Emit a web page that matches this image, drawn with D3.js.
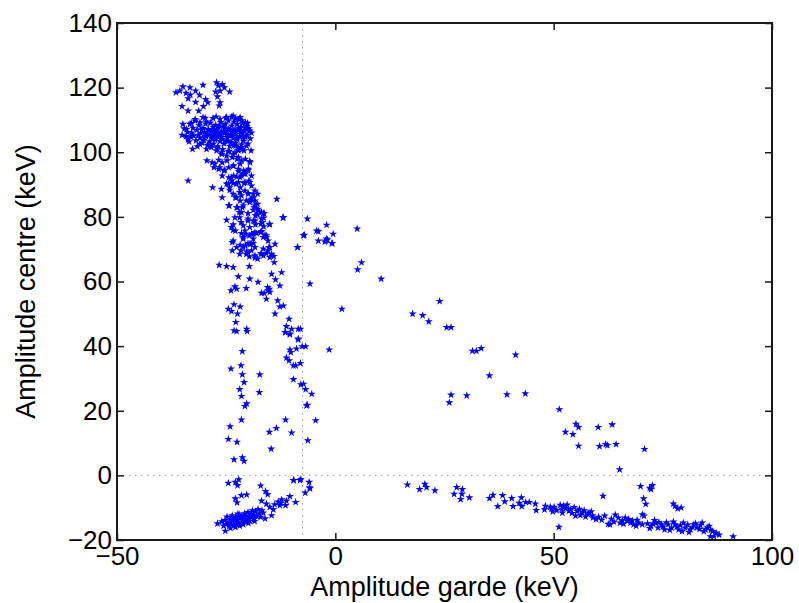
<!DOCTYPE html>
<html>
<head>
<meta charset="utf-8">
<title>Amplitude centre vs garde</title>
<script src="https://d3js.org/d3.v7.min.js"></script>
<style>
  body { margin: 0; background: white; }
  .tick text { font-family: "Liberation Sans", Arial, sans-serif; font-size: 26px; fill: #000; }
  .axis-title { font-family: "Liberation Sans", Arial, sans-serif; font-size: 27px; fill: #000; }
  .ref { stroke: #9a9a9a; stroke-width: 1; stroke-dasharray: 1.5,4.5; fill: none; }
</style>
</head>
<body>
<svg id="chart" width="799" height="603"></svg>
<script>
// tick labels
const xTicks = [-50, 0, 50, 100];
const yTicks = [-20, 0, 20, 40, 60, 80, 100, 120, 140];
const refX = -7.5, refY = 0;

// points, [garde, centre] in keV, grouped by region
const topCap = [[-36.5,118.5],[-35.6,119.0],[-34.9,120.3],[-33.3,120.0],[-32.0,119.0],[-30.3,120.8],[-27.2,121.6],[-26.8,120.6],[-25.4,120.0],[-24.2,118.7],[-26.4,119.0],[-27.4,118.7],[-33.2,117.8],[-33.7,116.6],[-32.0,115.5],[-31.1,117.7],[-29.7,116.4],[-29.2,115.4],[-30.2,114.2],[-31.3,112.8],[-35.1,114.2],[-33.7,112.8],[-26.6,114.4],[-26.4,115.4],[-25.9,121.0],[-27.0,117.2],[-34.2,118.3]];

const blob = [[-34.9,108.7],[-35.1,105.3],[-34.1,107.1],[-33.7,103.9],[-32.7,101.0],[-31.0,102.5],[-29.5,101.0],[-27.2,100.5],[-26.0,99.4],[-24.5,100.2],[-23.0,99.9],[-21.5,101.5],[-21.1,104.6],[-20.3,107.2],[-19.6,106.6],[-20.6,109.2],[-21.8,110.8],[-23.4,111.3],[-24.9,110.8],[-26.4,110.3],[-28.0,110.5],[-29.5,109.4],[-31.0,109.2],[-32.1,109.7],[-33.3,108.7],[-30.3,110.8],[-33.7,91.2],
  [-33.8,106.2],[-33.1,104.8],[-32.6,107.5],[-32.4,105.1],[-31.9,103.6],[-31.7,106.9],[-31.2,108.3],[-31.0,104.4],[-30.8,105.9],[-30.5,102.9],[-30.3,107.4],[-30.1,103.8],[-29.9,106.2],[-29.7,108.8],[-29.6,104.9],[-29.3,102.2],[-29.1,107.1],[-28.9,105.4],[-28.8,103.3],[-28.6,109.1],[-28.4,106.5],[-28.2,104.2],[-28.0,107.8],[-27.9,102.6],[-27.7,105.7],[-27.5,103.9],[-27.4,108.4],[-27.2,106.9],[-27.0,104.8],[-26.9,101.8],[-26.7,107.6],[-26.5,105.2],[-26.4,103.4],[-26.2,109.3],[-26.0,106.3],[-25.9,104.1],[-25.7,107.9],[-25.5,102.7],[-25.4,105.8],[-25.2,108.7],[-25.0,103.6],[-24.9,106.7],[-24.7,104.6],[-24.5,109.8],[-24.4,107.2],[-24.2,101.9],[-24.0,105.3],[-23.9,103.1],[-23.7,108.2],[-23.5,106.1],[-23.4,104.3],[-23.2,109.4],[-23.0,107.0],[-22.9,102.8],[-22.7,105.6],[-22.5,108.7],[-22.4,103.9],[-22.2,106.8],[-22.0,110.1],[-21.9,104.9],[-21.7,107.7],[-21.5,102.4],[-21.3,105.9],[-21.2,108.9],[-21.0,103.5],[-20.8,106.6],[-20.6,104.7],[-20.4,108.0],[-20.2,105.4],[-19.8,107.3],
  [-32.9,106.0],[-31.4,105.3],[-30.0,104.6],[-29.0,106.8],[-28.3,105.0],[-27.6,107.0],[-26.8,105.9],[-26.1,104.6],[-25.6,106.4],[-24.8,105.6],[-24.1,106.9],[-23.6,105.2],[-23.1,106.4],[-22.6,104.5],[-22.1,107.5],[-21.6,106.2],[-21.1,105.0],[-20.7,107.4],[-25.3,107.5],[-26.6,108.3],[-27.8,104.5],[-29.4,105.6],[-30.6,107.0],[-24.6,103.4],[-23.3,102.1],[-22.3,101.5],[-21.4,100.8],[-28.7,102.0],[-27.1,101.2],[-25.8,100.9],[-24.3,100.4],[-31.6,101.8],[-33.5,103.3],[-34.2,104.9],[-34.6,107.3],[-33.0,109.0],[-32.1,110.2],[-29.8,110.6],[-27.3,111.0],[-25.1,110.6],[-23.8,110.9],[-22.8,110.4],[-21.4,109.8],[-20.1,109.0],[-19.5,104.2],[-19.2,106.0],[-20.0,102.6]];

const bandUpper = [[-28.1,89.1],[-26.1,88.6],[-24.9,90.2],[-24.2,89.1],[-23.8,91.2],[-22.6,90.2],[-21.8,89.1],[-20.7,90.7],[-19.8,91.2],[-19.2,89.6],[-18.4,88.1],[-19.9,87.1],[-21.5,86.6],[-22.6,86.0],[-23.4,87.1],[-24.3,83.5],[-22.4,82.9],[-21.1,83.5],[-19.3,85.5],[-18.4,85.0],[-17.8,84.0],[-18.6,82.9],[-13.4,85.5],
  [-29.4,97.4],[-28.2,96.8],[-26.7,97.6],[-25.9,96.8],[-24.8,97.4],[-23.6,98.4],[-22.5,97.9],[-21.8,96.4],[-20.6,97.9],[-19.5,96.8],[-19.9,94.8],[-21.0,94.3],[-22.2,94.8],[-23.3,95.8],[-24.4,95.3],[-25.5,94.3],[-26.7,94.8],[-27.8,95.3],[-25.9,92.7],[-24.4,92.2],[-23.3,92.7],[-21.8,92.2],[-20.6,93.3],[-22.2,100.5],[-20.9,100.5],[-19.3,100.5],[-20.3,102.0],[-21.5,101.5],[-22.9,102.0],
  [-28.4,101.5],[-26.1,99.9],[-24.9,98.9],[-23.4,99.4],[-22.2,98.4],[-21.5,97.4],[-19.6,97.2],[-27.6,96.4],[-26.5,95.3],[-25.3,94.5],[-23.4,95.8],[-22.1,94.1],[-20.9,93.3],[-20.0,94.3],[-19.2,92.7],[-21.5,92.7],[-22.6,92.4],[-23.8,92.2],[-24.5,90.2],[-23.4,90.4],[-22.2,90.7],[-20.9,90.4],[-19.6,90.7],[-24.2,88.3],[-21.9,87.6],[-20.7,88.1],[-20.0,87.3],[-18.8,87.1],[-17.8,87.1],[-25.9,86.0],[-22.9,86.0],[-21.8,85.0],[-20.4,85.0],[-19.5,85.2],[-18.7,86.0]];

const bandMid = [[-24.4,83.5],[-22.6,82.9],[-21.3,82.9],[-19.6,84.5],[-18.4,83.5],[-18.8,82.1],[-17.7,82.4],[-16.9,81.4],[-16.3,81.1],[-22.0,81.4],[-23.0,79.8],[-24.9,79.0],[-21.6,78.3],[-21.1,77.3],[-23.4,77.6],[-23.8,76.8],[-22.9,75.7],[-20.0,79.4],[-18.8,78.8],[-18.3,77.6],[-17.1,77.8],[-16.4,77.0],[-16.7,78.3],[-15.1,77.6],[-16.4,79.7],[-18.3,80.4],[-12.0,79.8],
  [-17.1,75.2],[-16.1,74.4],[-16.5,73.7],[-15.8,73.7],[-15.4,72.6],[-15.0,70.6],[-19.2,74.7],[-18.8,74.7],[-18.0,74.9],[-19.7,74.2],[-20.6,74.7],[-21.1,73.7],[-20.0,71.8],[-20.6,71.1],[-19.4,71.6],[-18.8,71.8],[-13.8,71.6],[-23.6,72.1],[-22.6,70.6],[-21.8,71.3],[-21.6,69.6],[-20.3,69.3],[-20.4,68.5],[-19.2,69.6],[-19.7,67.7],[-18.4,67.3],[-17.8,67.0],[-17.0,68.7],[-16.5,68.0],[-15.4,69.6],[-14.6,68.5],[-14.1,67.8],[-14.0,65.9],
  [-24.9,64.7],[-23.4,64.4],[-19.7,64.7],[-26.6,65.1],[-14.6,62.3],[-12.3,62.8],[-13.7,60.6],[-12.7,58.7],[-15.5,58.2],[-15.1,57.7],[-15.4,57.2],[-15.0,56.7],[-16.9,56.4],[-16.3,56.4],[-19.6,60.8],[-17.7,59.8],[-22.2,61.5],[-23.0,58.4],[-22.6,57.7],[-23.9,57.2],[-20.4,57.9],[-15.8,54.6],[-13.2,54.1],[-11.9,52.5],[-12.7,52.2],[-23.2,52.9],[-24.5,51.5],[-23.8,50.8],[-21.8,52.2],[-22.4,50.0],[-13.8,50.0],
  [-21.9,79.8],[-20.0,78.8],[-18.4,78.8],[-16.9,79.4],[-15.0,77.8],[-23.4,75.9],[-21.5,74.9],[-20.7,75.7],[-19.6,76.8],[-18.4,75.2],[-16.9,75.5],[-15.8,74.2],[-18.8,73.2],[-21.1,73.2],[-23.4,72.6],[-21.1,70.7],[-19.6,71.6],[-18.4,70.6],[-16.5,70.1],[-15.2,70.6],[-23.6,69.6],[-21.9,68.5],[-20.0,69.0],[-18.4,68.0],[-16.9,68.5],[-15.8,68.7],[-15.0,67.5],[-17.7,81.9],[-21.5,81.4],[-20.0,81.1],[-17.8,80.7],[-16.5,81.1],[-11.9,79.8]];

const columns = [[-22.6,44.6],[-20.2,44.6],[-11.4,44.3],[-10.4,43.6],[-8.5,42.0],[-7.6,39.9],[-6.8,39.9],[-8.9,39.2],[-10.4,38.9],[-10.2,38.1],[-21.3,38.4],[-11.2,36.4],[-10.6,35.5],[-9.6,34.0],[-9.1,34.0],[-8.0,34.7],[-21.6,34.0],[-23.9,33.0],[-21.3,31.2],[-17.3,31.2],[-9.6,29.7],[-20.9,28.8],[-7.9,28.1],[-7.3,28.3],[-6.8,26.6],[-5.4,25.2],[-21.9,26.6],[-17.4,25.7],[-21.5,24.5],[-20.3,22.2],[-20.7,21.4],[-6.6,21.6],[-6.4,21.8],[-21.5,17.2],[-11.4,17.2],[-4.5,17.0],[-24.1,15.1],[-13.5,14.6],[-15.1,13.4],[-10.0,13.2],[-24.5,11.2],[-22.5,10.3],[-6.3,10.8],[-14.7,8.2],[-23.2,4.9],[-21.3,5.5],[-20.9,4.4],
  [-10.6,48.4],[-11.2,46.1],[-10.0,45.3],[-8.5,45.3],[-8.0,45.3],[-8.5,42.3],[-11.5,44.3],[-10.4,43.8],[-22.8,47.4],[-23.2,44.8],[-20.3,45.3]];

const diagonal = [[-6.4,79.4],[-2.0,77.5],[-3.9,75.5],[-0.5,74.7],[-7.1,74.4],[-3.9,72.6],[-2.2,72.6],[-2.0,73.2],[-0.7,71.8],[-8.7,70.6],[-2.4,72.3],[-1.8,72.9],[-0.8,71.8],[5.0,76.3],[6.0,65.9],[5.1,63.7],[10.5,60.8],[-5.8,59.3],[1.5,51.5],[23.9,53.9],[17.7,50.0],[20.0,49.5],[21.4,47.6],[25.5,45.8],[26.5,45.8],[31.4,38.5],[32.3,38.5],[33.4,39.3],[-1.4,38.9],[35.3,30.9],[41.3,37.3],[26.5,24.9],[30.1,24.7],[26.1,22.5],[39.3,25.0],[43.5,25.3],[51.3,20.4],[55.1,15.9],[55.7,14.9],[52.7,13.4],[54.4,12.7],[55.7,9.1],[60.2,14.9],[63.4,15.7],[60.5,9.0],[61.9,9.6],[62.3,9.3],[64.3,9.6],[70.8,8.1],[65.1,1.8],[-7.3,74.2],[-8.6,70.6],[-4.3,75.7]];

const lowLeft = [[-24.5,-2.4],[-22.9,-2.1],[-22.4,-3.1],[-22.1,-1.3],[-17.1,-3.2],[-9.5,-1.5],[-7.9,-1.2],[-6.0,-2.1],[-5.8,-4.1],[-6.9,-5.4],[-22.9,-7.2],[-21.5,-6.2],[-20.3,-6.0],[-22.5,-8.4],[-16.0,-4.9],[-15.5,-5.9],[-27.0,-14.9],[-25.2,-17.2],[-16.9,-7.9],[-15.8,-8.8],[-15.0,-9.8],[-14.6,-12.4],[-16.1,-13.4],[-13.1,-8.2],[-12.3,-7.5],[-11.2,-7.9],[-10.4,-6.5],[-12.7,-9.3],[-11.4,-9.3],[-9.1,-8.3],[-5.9,-3.8],[-9.6,-1.5],[-8.1,-1.5],[-12.5,-8.6],[-14.2,-10.6],[-13.9,-9.0],
  [-25.3,-13.9],[-25.0,-15.2],[-24.8,-12.8],[-24.6,-14.6],[-24.3,-15.8],[-24.1,-13.5],[-23.9,-14.9],[-23.6,-12.4],[-23.4,-13.8],[-23.2,-15.4],[-23.0,-14.2],[-22.8,-12.9],[-22.6,-15.0],[-22.4,-13.6],[-22.2,-14.6],[-22.0,-12.2],[-21.8,-13.3],[-21.6,-14.8],[-21.4,-12.7],[-21.2,-14.0],[-21.0,-13.1],[-20.8,-11.8],[-20.6,-14.4],[-20.4,-12.5],[-20.2,-13.6],[-20.0,-11.4],[-19.8,-12.9],[-19.6,-14.1],[-19.4,-11.9],[-19.2,-13.0],[-19.0,-10.9],[-18.8,-12.3],[-18.6,-13.6],[-18.3,-11.2],[-18.0,-12.6],[-17.7,-10.5],[-17.4,-11.8],[-17.1,-12.9],[-16.8,-10.9],[-16.5,-11.6],[-25.6,-15.6],[-24.0,-16.3],[-22.9,-16.0],[-21.9,-15.6],[-26.0,-14.3],[-23.7,-13.0],[-22.3,-11.9],[-21.1,-15.2],[-19.9,-14.8],[-18.5,-14.2]];

const floor = [[16.5,-2.9],[19.3,-4.3],[20.5,-2.7],[20.9,-3.7],[22.8,-4.7],[27.8,-3.7],[29.1,-4.3],[27.2,-5.8],[29.0,-5.8],[28.7,-7.4],[30.7,-6.9],[35.3,-7.1],[36.1,-6.1],[37.2,-9.6],[38.3,-6.2],[38.8,-8.1],[40.4,-7.1],[40.7,-9.6],[42.1,-8.6],[42.6,-6.9],[42.7,-9.6],[43.6,-8.3],[44.4,-8.3],[45.8,-8.8],[46.0,-10.8],[48.1,-9.5],[47.9,-10.6],[49.2,-9.8],[49.8,-11.2],[50.1,-9.8],[51.2,-16.0],
  [69.9,-3.4],[72.0,-3.9],[72.6,-3.1],[72.3,-4.3],[61.3,-6.4],[70.6,-7.2],[77.4,-8.8],[77.8,-9.5],[78.4,-10.3],[79.2,-10.0],[70.3,-12.1],[62.5,-15.1],[85.9,-18.9],[91.1,-18.9],
  [52.3,-9.4],[53.1,-9.1],[51.9,-10.4],[53.5,-11.0],[54.7,-9.9],[55.0,-12.5],[55.9,-10.4],[56.6,-11.5],[57.8,-12.0],[58.6,-11.2],[59.0,-13.1],[59.7,-13.6],[61.7,-12.5],[62.9,-15.2],[64.1,-12.2],[64.8,-13.1],[65.2,-14.7],[66.4,-13.1],[66.8,-14.1],[67.6,-14.7],[68.3,-15.2],[69.5,-14.7],[70.3,-15.2],[70.7,-12.5],[71.1,-8.9],[72.3,-15.7],[73.4,-14.7],[73.9,-16.2],[74.7,-15.2],[75.4,-16.8],[76.2,-15.2],[77.0,-16.2],[77.8,-15.2],[78.6,-16.8],[79.7,-14.7],[80.1,-16.2],[81.3,-16.8],[82.1,-15.2],[82.8,-16.2],[84.0,-14.7],[84.8,-16.8],[85.6,-15.7],[86.4,-17.3],[87.2,-17.8],[87.9,-18.4],[86.7,-18.9],
  [52.0,-11.6],[52.8,-10.2],[53.9,-10.5],[54.2,-11.7],[55.4,-11.1],[56.1,-12.3],[57.0,-10.9],[57.3,-12.8],[58.1,-11.6],[58.9,-12.4],[60.3,-12.9],[61.0,-13.8],[63.2,-13.5],[63.8,-14.4],[65.7,-13.9],[66.0,-15.0],[67.2,-13.6],[68.0,-14.0],[68.9,-15.6],[69.1,-13.8],[71.5,-14.9],[72.0,-16.4],[72.8,-15.0],[73.1,-13.9],[74.1,-14.5],[75.0,-15.9],[75.8,-14.6],[76.6,-16.9],[77.4,-14.4],[78.2,-15.9],[79.0,-15.5],[79.4,-17.3],[80.7,-15.3],[81.0,-17.6],[81.8,-16.0],[82.5,-14.9],[83.4,-16.6],[83.6,-15.4],[84.4,-17.3],[85.2,-16.2],[86.0,-16.9],[49.5,-10.4],[50.7,-10.8],[51.5,-9.2]];

const points = [].concat(topCap, blob, bandUpper, bandMid, columns, diagonal, lowLeft, floor);

const svg = d3.select("#chart");
const margin = { top: 23, right: 27, bottom: 63, left: 117 };
const width = +svg.attr("width") - margin.left - margin.right;
const height = +svg.attr("height") - margin.top - margin.bottom;

svg.append("rect").attr("width", 799).attr("height", 603).attr("fill", "white");
const g = svg.append("g").attr("transform", "translate(" + margin.left + "," + margin.top + ")");

const x = d3.scaleLinear().domain([-50, 100]).range([0, width]);
const y = d3.scaleLinear().domain([-20, 140]).range([height, 0]);

// dotted reference lines
g.append("line").attr("class", "ref")
  .attr("x1", x(refX)).attr("x2", x(refX)).attr("y1", 0).attr("y2", height);
g.append("line").attr("class", "ref")
  .attr("x1", 0).attr("x2", width).attr("y1", y(refY)).attr("y2", y(refY));

// stars
const star = d3.symbol().type(d3.symbolStar).size(20);
g.append("g").selectAll("path").data(points)
  .join("path")
  .attr("d", star)
  .attr("transform", d => "translate(" + x(d[0]) + "," + y(d[1]) + ")")
  .attr("fill", "#0000ff");

// axes, ticks pointing inwards on all four sides
const axisColor = "#1a1a1a";
function styleAxis(sel) {
  sel.select(".domain").remove();
  sel.selectAll(".tick line").attr("stroke", axisColor).attr("stroke-width", 1.5);
}
g.append("g").attr("transform", "translate(0," + height + ")")
  .call(d3.axisBottom(x).tickValues(xTicks).tickSize(-7).tickPadding(7).tickFormat(d3.format("d")))
  .call(styleAxis);
g.append("g")
  .call(d3.axisTop(x).tickValues(xTicks).tickSize(-7).tickFormat(""))
  .call(styleAxis);
g.append("g")
  .call(d3.axisLeft(y).tickValues(yTicks).tickSize(-7).tickPadding(5).tickFormat(d3.format("d")))
  .call(styleAxis);
g.append("g").attr("transform", "translate(" + width + ",0)")
  .call(d3.axisRight(y).tickValues(yTicks).tickSize(-7).tickFormat(""))
  .call(styleAxis);

g.selectAll(".tick text").attr("fill", "#000").style("font-family", null).attr("font-size", null);

// frame
g.append("rect").attr("width", width).attr("height", height)
  .attr("fill", "none").attr("stroke", axisColor).attr("stroke-width", 2);

// axis titles
svg.append("text").attr("class", "axis-title")
  .attr("x", margin.left + width / 2).attr("y", 596)
  .attr("text-anchor", "middle")
  .text("Amplitude garde (keV)");
svg.append("text").attr("class", "axis-title")
  .attr("transform", "translate(35," + (margin.top + height / 2) + ") rotate(-90)")
  .attr("text-anchor", "middle")
  .text("Amplitude centre (keV)");
</script>
</body>
</html>
